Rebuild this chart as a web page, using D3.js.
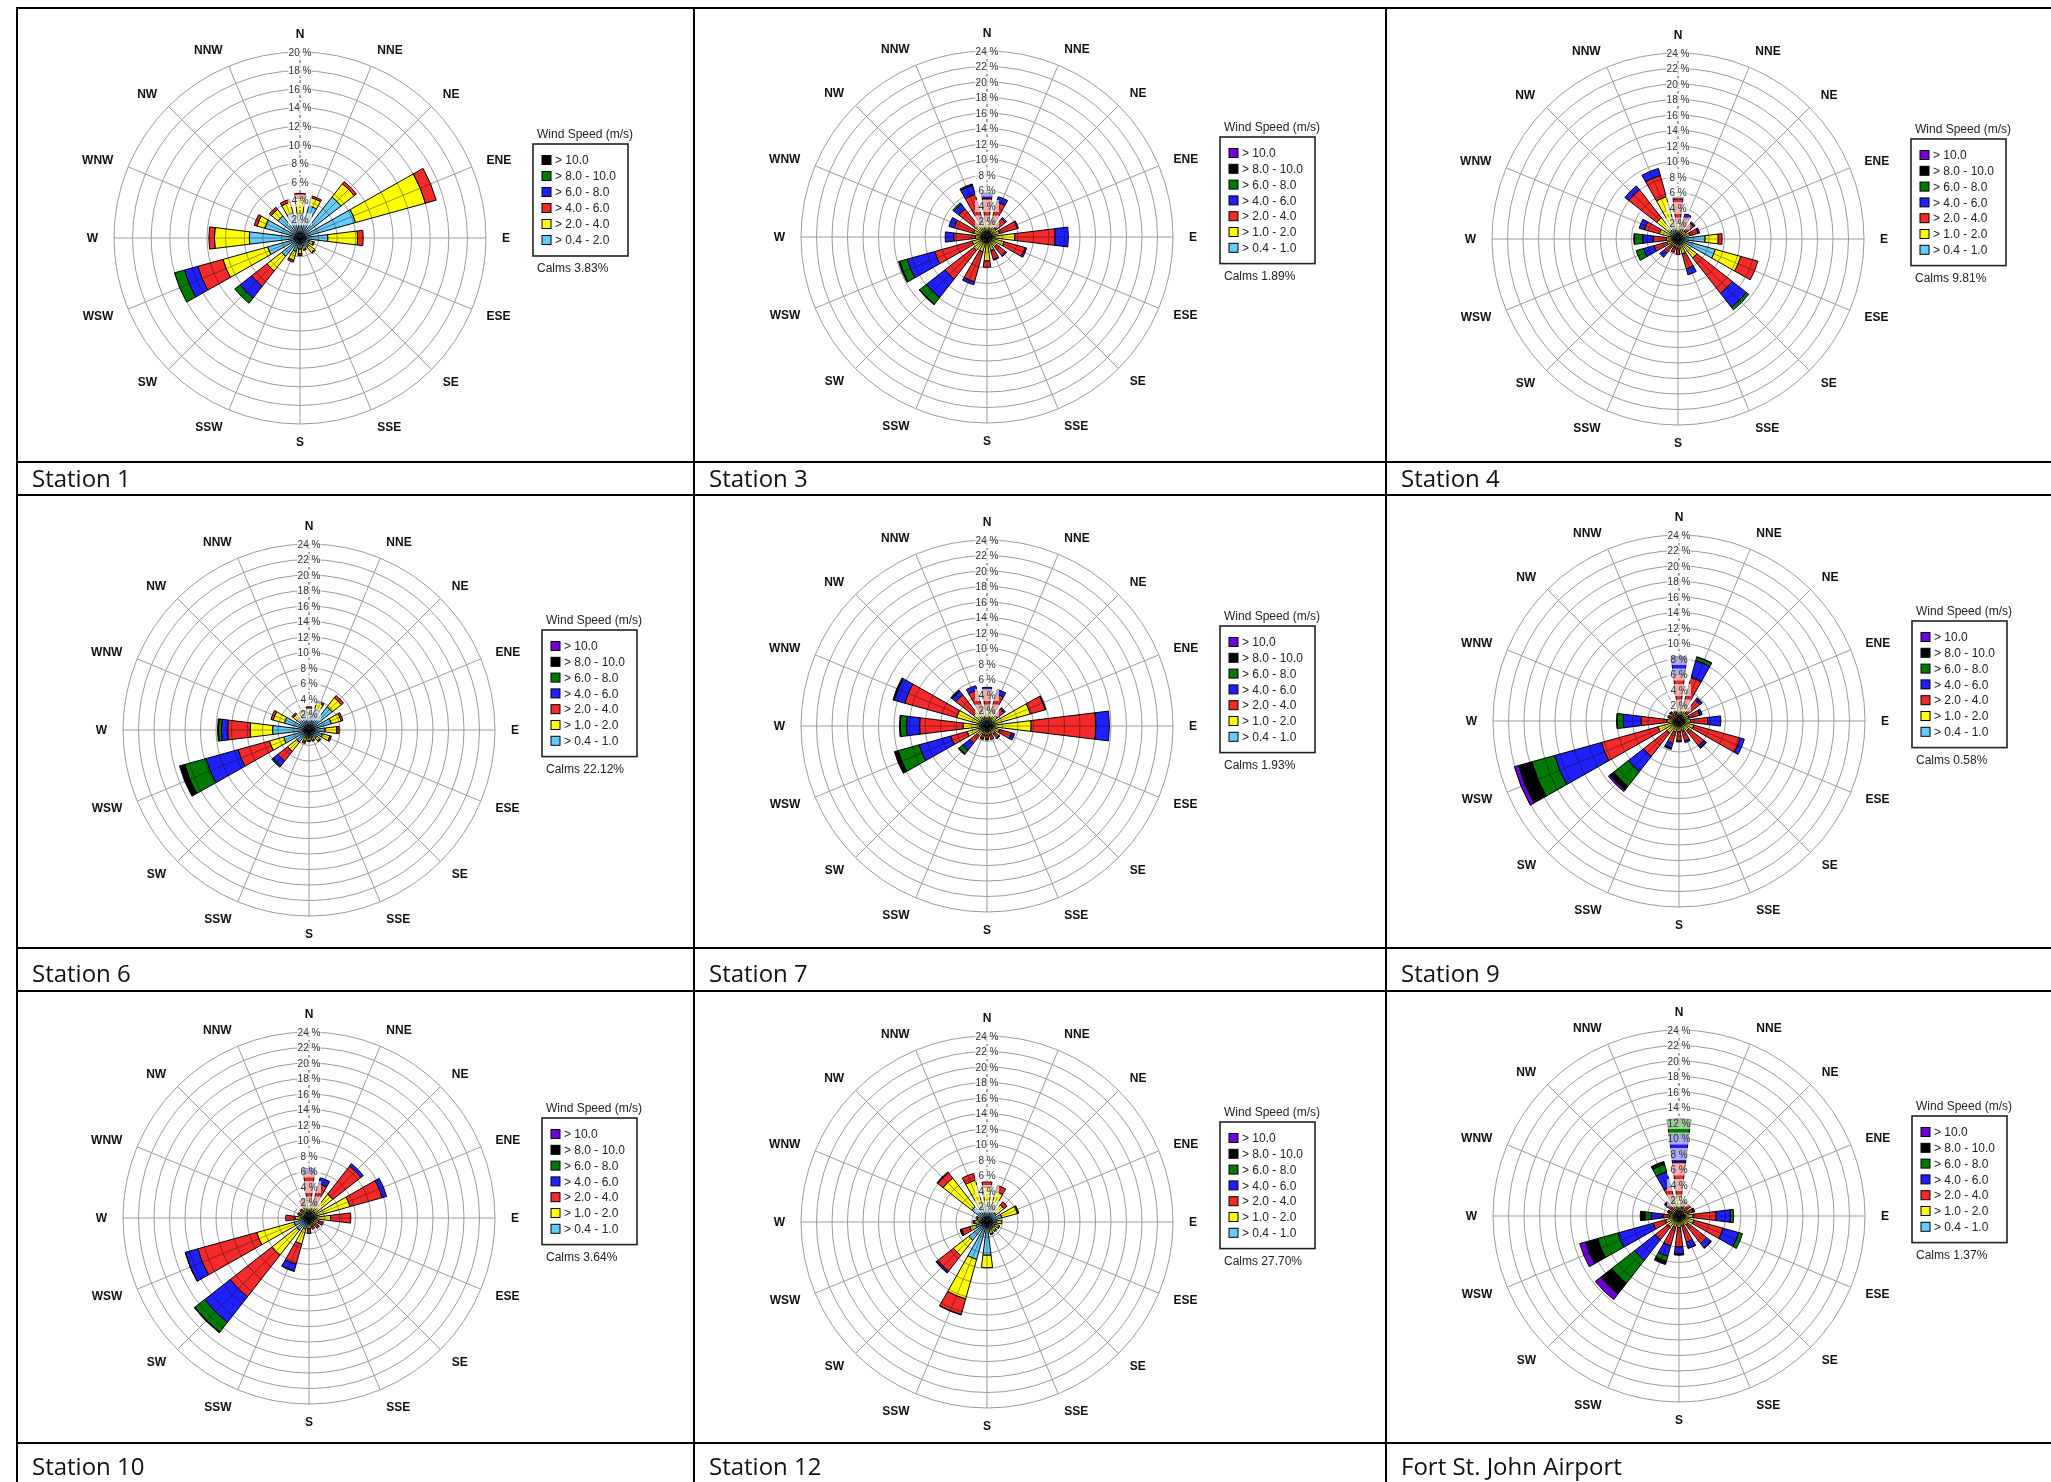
<!DOCTYPE html>
<html>
<head>
<meta charset="utf-8">
<script src="https://cdn.jsdelivr.net/npm/d3@7"></script>
<style>
  body { margin: 0; background: #fff; }
  svg { display: block; }
  .rose text { font-family: "Liberation Sans Narrow", "Arial Narrow", "Liberation Sans", sans-serif; }
  .cell-label { font-family: "Open Sans", "Noto Sans", sans-serif; font-size: 24px; fill: #111; }
</style>
</head>
<body>
<svg id="chart" width="2051" height="1482"></svg>
<script>
// Directions, clockwise from north
const directions = ['N', 'NNE', 'NE', 'ENE', 'E', 'ESE', 'SE', 'SSE', 'S', 'SSW', 'SW', 'WSW', 'W', 'WNW', 'NW', 'NNW'];

// Speed classes (lowest first) and their colours
const classes6 = ['> 0.4 - 2.0', '> 2.0 - 4.0', '> 4.0 - 6.0', '> 6.0 - 8.0', '> 8.0 - 10.0', '> 10.0'];
const colors6 = ['#66ccff', '#ffff00', '#f52a2a', '#2020ff', '#007a00', '#000000'];
const classes7 = ['> 0.4 - 1.0', '> 1.0 - 2.0', '> 2.0 - 4.0', '> 4.0 - 6.0', '> 6.0 - 8.0', '> 8.0 - 10.0', '> 10.0'];
const colors7 = ['#66ccff', '#ffff00', '#f52a2a', '#2020ff', '#007a00', '#000000', '#7000d8'];

// Frequencies (%) per direction: one row per speed class, columns follow `directions`
const station1 = [
  [2.6, 3.6, 5.6, 6.2, 3.0, 1.0, 1.2, 0.9, 1.2, 1.5, 2.5, 3.6, 5.45, 3.9, 3.0, 2.8],
  [1.7, 0.9, 1.8, 7.8, 3.2, 0.5, 0.8, 0.4, 0.5, 1.0, 2.0, 5.0, 3.75, 0.9, 0.9, 1.2],
  [0.5, 0.2, 0.3, 1.2, 0.6, 0.1, 0.1, 0.1, 0.2, 0.2, 2.1, 2.8, 0.6, 0.3, 0.3, 0.3],
  [0, 0, 0, 0, 0, 0, 0, 0, 0, 0, 1.6, 1.5, 0, 0, 0, 0],
  [0, 0, 0, 0, 0, 0, 0, 0, 0, 0, 0.7, 1.1, 0, 0, 0, 0],
  [0, 0, 0, 0, 0, 0, 0, 0, 0, 0, 0, 0, 0, 0, 0, 0]
];
const station3 = [
  [0.8, 0.8, 0.7, 0.7, 1.0, 0.7, 0.6, 0.6, 0.8, 0.8, 0.8, 0.8, 0.8, 0.8, 0.8, 0.8],
  [1.2, 1.0, 0.8, 1.0, 2.6, 1.6, 1.0, 1.2, 2.3, 1.2, 1.4, 1.2, 0.7, 1.0, 1.0, 1.2],
  [3.0, 2.9, 1.5, 2.4, 5.2, 2.8, 1.5, 1.2, 0.8, 4.0, 4.7, 5.0, 2.8, 2.6, 2.8, 3.7],
  [0.7, 0.7, 0.2, 0.1, 1.7, 0.2, 0.1, 0.1, 0, 0.4, 3.0, 3.7, 1.1, 0.7, 0.8, 1.2],
  [0, 0, 0, 0, 0, 0, 0, 0, 0, 0, 1.1, 1.0, 0, 0, 0.2, 0.1],
  [0, 0, 0, 0, 0, 0, 0, 0, 0, 0, 0.1, 0.15, 0, 0, 0, 0.1],
  [0, 0, 0, 0, 0, 0, 0, 0, 0, 0, 0, 0, 0, 0, 0, 0]
];
const station4 = [
  [0.8, 0.6, 0.5, 0.6, 3.5, 5.0, 0.8, 0.7, 0.5, 0.5, 0.5, 0.7, 0.7, 1.0, 1.3, 1.5],
  [1.2, 0.8, 0.8, 1.0, 1.7, 3.4, 2.3, 1.3, 0.7, 0.6, 0.6, 0.8, 0.8, 1.5, 2.2, 4.15],
  [3.2, 1.5, 1.3, 1.1, 0.5, 2.3, 5.8, 2.0, 0.8, 0.7, 1.2, 1.7, 1.7, 2.0, 4.6, 2.85],
  [0.2, 0.5, 0.2, 0.2, 0, 0, 2.3, 0.8, 0, 0, 0.7, 1.4, 1.35, 0.7, 0.6, 0.95],
  [0, 0, 0, 0, 0, 0, 0.4, 0, 0, 0, 0, 1.0, 1.1, 0, 0, 0],
  [0, 0, 0, 0, 0, 0, 0, 0, 0, 0, 0, 0, 0.05, 0, 0, 0],
  [0, 0, 0, 0, 0, 0, 0, 0, 0, 0, 0, 0, 0, 0, 0, 0]
];
const station6 = [
  [2.2, 2.8, 3.8, 3.0, 2.1, 1.8, 1.3, 1.0, 1.0, 1.0, 2.0, 3.4, 4.7, 3.3, 2.0, 2.0],
  [0.6, 0.9, 1.5, 1.3, 1.5, 1.0, 0.5, 0.4, 0.4, 0.5, 1.5, 1.9, 2.9, 1.5, 0.6, 0.5],
  [0.2, 0.2, 0.35, 0.25, 0.3, 0.2, 0.1, 0.1, 0.1, 0.3, 1.6, 4.2, 2.9, 0.3, 0.2, 0.1],
  [0, 0, 0, 0, 0, 0, 0, 0, 0, 0, 0.8, 4.3, 0.8, 0, 0, 0],
  [0, 0, 0, 0, 0, 0, 0, 0, 0, 0, 0.2, 2.85, 0.4, 0, 0, 0],
  [0, 0, 0, 0, 0, 0, 0, 0, 0, 0, 0, 0.6, 0.1, 0, 0, 0],
  [0, 0, 0, 0, 0, 0, 0, 0, 0, 0, 0, 0.1, 0, 0, 0, 0]
];
const station7 = [
  [1.0, 1.0, 0.8, 1.0, 1.0, 0.8, 0.6, 0.6, 0.6, 0.6, 0.8, 1.0, 1.0, 1.0, 1.0, 1.0],
  [1.2, 1.0, 0.9, 4.8, 4.7, 0.9, 0.7, 0.6, 0.6, 0.6, 0.8, 1.65, 2.1, 3.1, 1.2, 1.0],
  [2.5, 2.3, 1.1, 2.0, 8.36, 1.6, 0.7, 0.6, 0.5, 0.5, 1.2, 2.2, 5.6, 6.9, 2.9, 2.8],
  [0.3, 0.6, 0.2, 0.1, 1.74, 0.4, 0.1, 0, 0.1, 0.1, 1.2, 4.25, 1.7, 1.4, 0.6, 0.6],
  [0, 0, 0, 0, 0, 0, 0, 0, 0, 0, 0.6, 2.8, 0.8, 0.1, 0, 0],
  [0, 0, 0, 0, 0, 0, 0, 0, 0, 0, 0.1, 0.4, 0.1, 0.1, 0.2, 0],
  [0, 0, 0, 0, 0, 0, 0, 0, 0, 0, 0, 0.1, 0, 0, 0, 0]
];
const station9 = [
  [0.8, 0.8, 0.6, 0.6, 0.7, 0.8, 0.7, 0.6, 0.6, 0.7, 0.8, 0.8, 0.6, 0.5, 0.5, 0.5],
  [1.0, 1.3, 0.7, 0.7, 0.8, 1.2, 0.9, 0.8, 0.8, 0.8, 1.2, 2.0, 0.95, 0.5, 0.5, 0.4],
  [4.2, 3.7, 2.1, 1.5, 2.2, 6.2, 2.5, 1.3, 1.2, 1.5, 3.8, 7.6, 3.35, 0.4, 0.4, 0.4],
  [2.2, 2.3, 0.3, 0.3, 1.7, 0.55, 0.3, 0.2, 0.1, 0.6, 2.5, 6.25, 2.3, 0.1, 0.1, 0.1],
  [0.15, 0.45, 0, 0, 0, 0, 0, 0, 0, 0.1, 2.4, 3.05, 0.8, 0, 0, 0],
  [0, 0.05, 0.1, 0, 0, 0, 0.1, 0, 0, 0.1, 0.6, 1.8, 0.05, 0, 0.05, 0],
  [0, 0, 0, 0, 0, 0, 0, 0, 0, 0, 0.26, 0.55, 0, 0, 0, 0]
];
const station10 = [
  [1.0, 0.8, 1.0, 1.0, 1.0, 0.7, 0.6, 0.6, 0.8, 1.5, 2.0, 2.0, 1.0, 0.6, 0.6, 0.8],
  [1.2, 0.9, 2.9, 4.5, 1.8, 0.6, 0.5, 0.5, 0.6, 2.0, 4.1, 5.0, 0.8, 0.5, 0.5, 0.6],
  [3.6, 2.9, 4.6, 4.3, 2.6, 0.6, 0.6, 0.4, 0.6, 2.7, 6.8, 7.9, 1.2, 0.4, 0.4, 1.1],
  [0.6, 0.8, 0.4, 0.6, 0, 0, 0, 0, 0, 0.9, 4.2, 1.65, 0, 0, 0, 0],
  [0, 0, 0, 0, 0, 0, 0, 0, 0, 0.05, 1.6, 0.05, 0, 0, 0, 0],
  [0, 0, 0, 0, 0, 0, 0, 0, 0, 0, 0.1, 0, 0, 0, 0, 0],
  [0, 0, 0, 0, 0, 0, 0, 0, 0, 0, 0, 0, 0, 0, 0, 0]
];
const station12 = [
  [2.0, 1.8, 1.5, 2.0, 1.2, 1.0, 1.0, 1.0, 4.3, 5.0, 3.0, 1.5, 1.0, 0.8, 2.5, 2.0],
  [2.5, 2.3, 1.3, 2.1, 0.7, 0.6, 0.5, 0.6, 1.6, 5.3, 2.5, 0.8, 0.6, 0.5, 4.7, 3.6],
  [0.7, 0.8, 0.5, 0.1, 0, 0.1, 0.1, 0.1, 0, 2.1, 2.6, 1.1, 0.2, 0.2, 0.9, 0.9],
  [0, 0, 0, 0.05, 0, 0, 0, 0, 0, 0.05, 0.2, 0.15, 0, 0, 0.1, 0],
  [0, 0, 0, 0, 0, 0, 0, 0, 0, 0, 0, 0, 0, 0, 0, 0],
  [0, 0, 0, 0, 0, 0, 0, 0, 0, 0, 0.05, 0.05, 0, 0, 0, 0],
  [0, 0, 0, 0, 0, 0, 0, 0, 0, 0, 0, 0, 0, 0, 0, 0]
];
const airport = [
  [1.0, 0.5, 0.5, 0.5, 0.8, 0.8, 0.7, 0.6, 0.7, 0.7, 0.8, 0.8, 0.6, 0.5, 0.5, 0.8],
  [1.5, 0.6, 0.5, 0.6, 1.0, 1.2, 0.8, 0.7, 0.8, 0.8, 1.0, 1.0, 0.6, 0.5, 0.6, 1.0],
  [4.5, 0.7, 0.8, 0.8, 3.0, 3.9, 3.0, 2.2, 2.5, 2.5, 2.1, 1.65, 0.9, 0.4, 0.7, 2.1],
  [3.5, 0.1, 0, 0.2, 1.85, 2.1, 0.7, 0.8, 0.9, 1.4, 3.36, 4.75, 1.5, 0.1, 0.4, 2.0],
  [2.0, 0, 0, 0, 0.4, 0.5, 0, 0, 0.1, 0.7, 3.74, 2.7, 0.8, 0, 0.1, 1.0],
  [0.05, 0.1, 0.1, 0, 0, 0, 0.1, 0.05, 0.05, 0.4, 1.8, 1.6, 0.6, 0.05, 0.1, 0.4],
  [0, 0, 0, 0, 0, 0, 0, 0, 0, 0, 0.9, 0.8, 0, 0, 0, 0]
];

const stationNames = ['Station 1', 'Station 3', 'Station 4', 'Station 6', 'Station 7', 'Station 9', 'Station 10', 'Station 12', 'Fort St. John Airport'];
const calms = ['3.83', '1.89', '9.81', '22.12', '1.93', '0.58', '3.64', '27.70', '1.37'];
const axisMax = [20, 24, 24, 24, 24, 24, 24, 24, 24];

// Layout of the table
const colX = [17, 694, 1386];
const rowLines = [8, 462, 495, 948, 991, 1443];
const centers = [
  [300, 238], [987, 237], [1678, 239],
  [309, 730], [987, 726], [1679, 721],
  [309, 1218], [987, 1222], [1679, 1216]
];
const labelBaselines = [487, 982, 1475];
const R = 186;

const svg = d3.select('#chart');
svg.append('rect').attr('width', 2051).attr('height', 1482).attr('fill', '#fff');

const stations = [station1, station3, station4, station6, station7, station9, station10, station12, airport];

// Angle scale: one band per direction, centred on the compass bearing
const step = 2 * Math.PI / directions.length;
const angle = d3.scaleBand()
  .domain(directions)
  .range([-step / 2, 2 * Math.PI - step / 2])
  .paddingInner(0.378)
  .paddingOuter(0.189);

stations.forEach((data, si) => {
  const [cx, cy] = centers[si];
  const classes = data.length === 6 ? classes6 : classes7;
  const colors = data.length === 6 ? colors6 : colors7;
  const max = axisMax[si];
  const r = d3.scaleLinear().domain([0, max]).range([0, R]);
  const ticks = d3.range(2, max + 1, 2);

  const g = svg.append('g').attr('class', 'rose').attr('transform', `translate(${cx},${cy})`);

  // stacked wedges
  const rows = directions.map((dir, i) => {
    const o = { dir };
    classes.forEach((c, k) => { o[k] = data[k][i]; });
    return o;
  });
  const series = d3.stack().keys(d3.range(classes.length))(rows);
  const arc = d3.arc()
    .innerRadius(d => r(d[0]))
    .outerRadius(d => r(d[1]))
    .startAngle(d => angle(d.data.dir))
    .endAngle(d => angle(d.data.dir) + angle.bandwidth());

  g.append('g').selectAll('g')
    .data(series)
    .join('g')
    .attr('fill', s => colors[s.key])
    .selectAll('path')
    .data(s => s.filter(d => d[1] - d[0] > 0))
    .join('path')
    .attr('d', arc)
    .attr('stroke', '#000')
    .attr('stroke-width', 1);

  // grid over bars
  const grid = g.append('g').style('mix-blend-mode', 'multiply');
  grid.selectAll('circle')
    .data(ticks)
    .join('circle')
    .attr('r', d => r(d))
    .attr('fill', 'none')
    .attr('stroke', '#9a9a9a')
    .attr('stroke-width', 1);
  grid.selectAll('line')
    .data(directions.slice(1))
    .join('line')
    .attr('x2', d => R * Math.sin(angle(d) + angle.bandwidth() / 2))
    .attr('y2', d => -R * Math.cos(angle(d) + angle.bandwidth() / 2))
    .attr('stroke', '#9a9a9a')
    .attr('stroke-width', 1);
  g.append('line')
    .attr('y2', -R)
    .attr('stroke', '#444')
    .attr('stroke-width', 1)
    .attr('stroke-dasharray', '3,2');

  // tick labels on the north axis
  const tl = g.append('g').selectAll('g')
    .data(ticks)
    .join('g')
    .attr('transform', d => `translate(0,${-r(d)})`);
  tl.append('rect')
    .attr('x', -12).attr('y', -6).attr('width', 24).attr('height', 12)
    .attr('fill', '#fff').attr('opacity', 0.62);
  tl.append('text')
    .attr('text-anchor', 'middle')
    .attr('dy', '0.35em')
    .attr('font-size', 10)
    .attr('fill', '#333')
    .text(d => `${d} %`);

  // compass labels
  g.append('g').selectAll('text')
    .data(directions)
    .join('text')
    .attr('x', d => 202 * Math.sin(angle(d) + angle.bandwidth() / 2))
    .attr('y', d => -204 * Math.cos(angle(d) + angle.bandwidth() / 2))
    .attr('dy', '0.35em')
    .attr('text-anchor', d => {
      const s = Math.sin(angle(d) + angle.bandwidth() / 2);
      return s > 0.01 ? 'start' : s < -0.01 ? 'end' : 'middle';
    })
    .attr('font-size', 12)
    .attr('font-weight', 'bold')
    .attr('fill', '#111')
    .text(d => d);

  // legend
  const n = classes.length;
  const boxTop = n === 6 ? -94 : -100;
  const spacing = n === 6 ? 16 : 15.8;
  const boxH = spacing * n + 16;
  const lg = g.append('g').attr('transform', `translate(233,${boxTop})`);
  lg.append('text')
    .attr('x', 4).attr('y', -10).attr('dy', '0.35em')
    .attr('font-size', 12).attr('fill', '#222')
    .text('Wind Speed (m/s)');
  lg.append('rect')
    .attr('width', 95).attr('height', boxH)
    .attr('fill', '#fff').attr('stroke', '#222').attr('stroke-width', 1.6);
  const items = lg.selectAll('g.item')
    .data(d3.range(n - 1, -1, -1))
    .join('g')
    .attr('class', 'item')
    .attr('transform', (k, i) => `translate(0,${16 + i * spacing})`);
  items.append('rect')
    .attr('x', 9).attr('y', -4.5).attr('width', 9).attr('height', 9)
    .attr('fill', k => colors[k]).attr('stroke', '#000').attr('stroke-width', 1);
  items.append('text')
    .attr('x', 22).attr('dy', '0.35em')
    .attr('font-size', 12).attr('fill', '#222')
    .text(k => classes[k]);
  lg.append('text')
    .attr('x', 4).attr('y', boxH + 12).attr('dy', '0.35em')
    .attr('font-size', 12).attr('fill', '#222')
    .text(`Calms ${calms[si]}%`);
});

// table lines
const tableG = svg.append('g').attr('stroke', '#000').attr('stroke-width', 2);
tableG.selectAll('line.h')
  .data(rowLines)
  .join('line')
  .attr('class', 'h')
  .attr('x1', colX[0] - 1).attr('x2', 2051)
  .attr('y1', d => d).attr('y2', d => d);
tableG.selectAll('line.v')
  .data(colX)
  .join('line')
  .attr('class', 'v')
  .attr('x1', d => d).attr('x2', d => d)
  .attr('y1', rowLines[0]).attr('y2', 1482);

// station labels
svg.append('g').selectAll('text')
  .data(stationNames)
  .join('text')
  .attr('class', 'cell-label')
  .attr('x', (d, i) => colX[i % 3] + 15)
  .attr('y', (d, i) => labelBaselines[Math.floor(i / 3)])
  .text(d => d);
</script>
</body>
</html>
